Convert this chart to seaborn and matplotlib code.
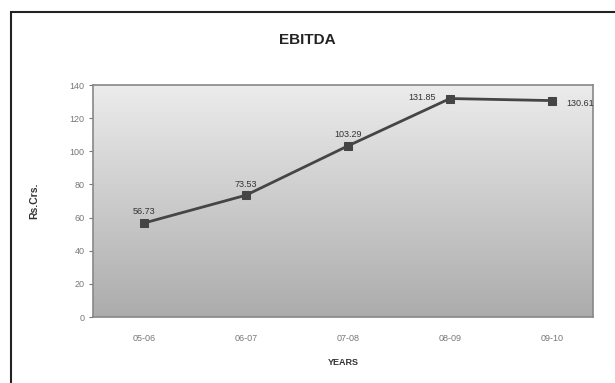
import matplotlib
matplotlib.use("Agg")

import matplotlib.pyplot as plt
import seaborn as sns
import numpy as np
import pandas as pd
from matplotlib.patches import Rectangle

# Data
years = ["05-06", "06-07", "07-08", "08-09", "09-10"]
ebitda = [56.73, 73.53, 103.29, 131.85, 130.61]
y_ticks = [0, 20, 40, 60, 80, 100, 120, 140]


def main():
    sns.set_style("white")
    plt.rcParams["font.family"] = ["Liberation Sans", "DejaVu Sans"]

    df = pd.DataFrame({"year": years, "ebitda": ebitda})
    df["pos"] = range(len(years))

    fig = plt.figure(figsize=(6.15, 3.83), dpi=100)
    ax = fig.add_axes([0.151, 0.172, 0.813, 0.606])

    # Gradient plot background (light at top, darker at bottom)
    grad = np.linspace(0, 1, 256).reshape(-1, 1)
    ax.imshow(grad, extent=[-0.5, 4.4, 0, 140], aspect="auto",
              cmap=matplotlib.colors.LinearSegmentedColormap.from_list(
                  "g", ["#ececec", "#acacac"]),
              origin="upper", zorder=0)

    sns.lineplot(data=df, x="pos", y="ebitda", ax=ax, color="#454545",
                 linewidth=2, marker="s", markersize=6,
                 markeredgecolor="#454545", zorder=3)

    ax.set_xlim(-0.5, 4.4)
    ax.set_ylim(0, 140)
    ax.set_xticks(range(len(years)))
    ax.set_xticklabels(years)
    ax.set_yticks(y_ticks)
    ax.tick_params(axis="both", labelsize=6.5, colors="#777777")
    ax.tick_params(axis="y", left=True, length=3, width=0.8, pad=3)
    ax.tick_params(axis="x", length=0, pad=12)

    # Point labels
    offsets = [(0, 8, "center"), (0, 8, "center"), (0, 8, "center"),
               (-10, 1, "right"), (10, -2, "left")]
    for i, v in enumerate(ebitda):
        dx, dy, ha = offsets[i]
        ax.annotate(f"{v:.2f}", (i, v), xytext=(dx, dy),
                    textcoords="offset points", ha=ha, va="center",
                    fontsize=6.5, color="#333333")

    for s in ax.spines.values():
        s.set_color("#888888")
        s.set_linewidth(1.2)

    ax.set_xlabel("YEARS", fontsize=6.5, fontweight="bold", color="#333333",
                  labelpad=11)
    ax.set_ylabel("Rs.Crs.", fontsize=7.5, fontweight="bold", color="#333333",
                  labelpad=22)
    fig.text(0.5, 0.895, "EBITDA", ha="center", va="center", fontsize=11,
             fontweight="bold", color="#222222")

    # Outer chart border
    fig.patches.append(Rectangle((11 / 615, -0.05), 1.0, 1 - 12 / 383 + 0.05,
                                 transform=fig.transFigure, fill=False,
                                 edgecolor="#222222", linewidth=1.5,
                                 clip_on=False))

    fig.savefig("out.png", dpi=100)
    plt.close(fig)


if __name__ == "__main__":
    main()
